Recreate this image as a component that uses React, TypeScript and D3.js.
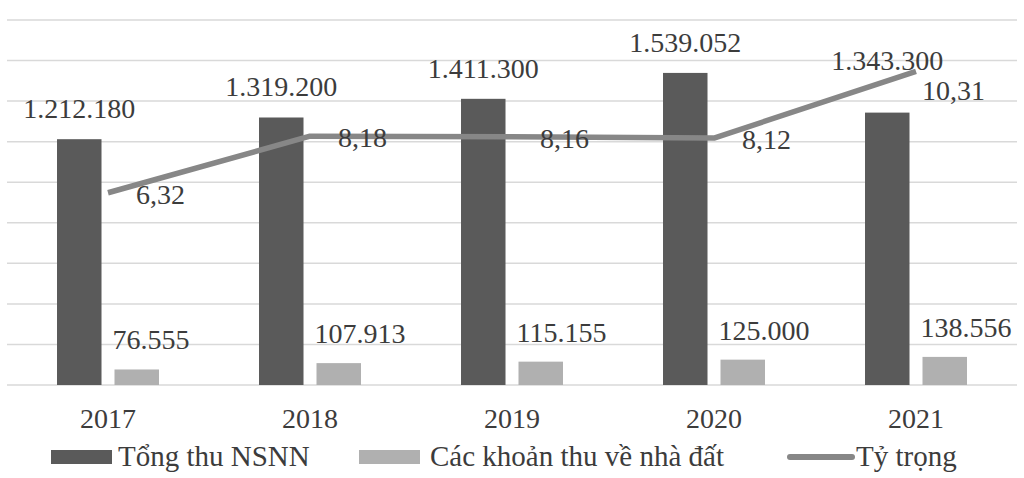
import React from 'react';
import * as d3 from 'd3';

// Data
const years = ['2017', '2018', '2019', '2020', '2021'];
const tongThu = [1212180, 1319200, 1411300, 1539052, 1343300];
const nhaDat = [76555, 107913, 115155, 125000, 138556];
const tyTrong = [6.32, 8.18, 8.16, 8.12, 10.31];
const seriesNames = ['Tổng thu NSNN', 'Các khoản thu về nhà đất', 'Tỷ trọng'];

const WIDTH = 1024;
const HEIGHT = 478;
const FONT = "'Liberation Serif'";
const TEXT = '#3c3c3c';
const DARK = '#5a5a5a';
const LIGHT = '#b0b0b0';
const LINE = '#878787';
const GRID = '#d9d9d9';

const vn = d3.formatLocale({ decimal: ',', thousands: '.', grouping: [3], currency: ['', ''] });
const fmtInt = vn.format(',d');
const fmtDec = vn.format(',.2f');

const left = 7, right = 1017, top = 20, bottom = 385;

const x0 = d3.scaleBand().domain(years).range([left, right]).padding(0);
const x1 = d3.scaleBand()
  .domain(['a', 'b'])
  .range([0, x0.bandwidth()])
  .paddingInner(0.226)
  .paddingOuter(0.87);
const y = d3.scaleLinear().domain([0, 1800000]).range([bottom, top]);
const y2 = d3.scaleLinear().domain([0, 12]).range([bottom, top]);
const cx = (d: string) => x0(d)! + x0.bandwidth() / 2;

const lineGen = d3.line<number>()
  .x((_, i) => cx(years[i]))
  .y(d => y2(d));

const Label: React.FC<{ x: number; y: number; anchor?: string; size?: number; children: React.ReactNode }> = ({ x, y, anchor = 'start', size = 28, children }) => (
  <text x={x} y={y} textAnchor={anchor} fill={TEXT} style={{ fontFamily: FONT, fontSize: size }}>
    {children}
  </text>
);

const App: React.FC = () => {
  const last = years.length - 1;
  const legendX = [51, 359, 790];
  const legendTextX = [118, 430, 856];
  return (
    <svg
      width={WIDTH}
      height={HEIGHT}
      style={{ position: 'absolute', left: 0, top: 0, background: '#fff' }}
    >
      {/* gridlines */}
      {y.ticks(9).map(t => (
        <line key={t} x1={left} x2={right} y1={y(t)} y2={y(t)} stroke={GRID} strokeWidth={1.5} />
      ))}

      {/* bars */}
      {years.map((yr, i) => {
        const gx = x0(yr)!;
        return (
          <g key={yr} transform={`translate(${gx},0)`}>
            <rect x={x1('a')} width={x1.bandwidth()} y={y(tongThu[i])} height={bottom - y(tongThu[i])} fill={DARK} />
            <rect x={x1('b')} width={x1.bandwidth()} y={y(nhaDat[i])} height={bottom - y(nhaDat[i])} fill={LIGHT} />
            <Label x={x1('a')! + x1.bandwidth() / 2} y={y(tongThu[i]) - (i === last ? 43 : 21)} anchor="middle">
              {fmtInt(tongThu[i])}
            </Label>
            <Label x={x1('b')! - 2} y={y(nhaDat[i]) - 20}>
              {fmtInt(nhaDat[i])}
            </Label>
          </g>
        );
      })}

      {/* ratio line */}
      <path d={lineGen(tyTrong) || ''} fill="none" stroke={LINE} strokeWidth={5.5} strokeLinejoin="round" />
      {tyTrong.map((v, i) => (
        <Label key={i} x={cx(years[i]) + (i === last ? 6 : 28)} y={y2(v) + (i === last ? 29 : 11)}>
          {fmtDec(v)}
        </Label>
      ))}

      {/* category labels */}
      {years.map(yr => (
        <Label key={yr} x={cx(yr)} y={428} anchor="middle">{yr}</Label>
      ))}

      {/* legend */}
      <rect x={legendX[0]} y={450} width={61} height={14} fill={DARK} />
      <rect x={legendX[1]} y={450} width={61} height={14} fill={LIGHT} />
      <line x1={legendX[2]} x2={legendX[2] + 62} y1={457} y2={457} stroke={LINE} strokeWidth={6} strokeLinecap="round" />
      {seriesNames.map((s, i) => (
        <Label key={s} x={legendTextX[i]} y={466} size={29}>{s}</Label>
      ))}
    </svg>
  );
};

export default App;
